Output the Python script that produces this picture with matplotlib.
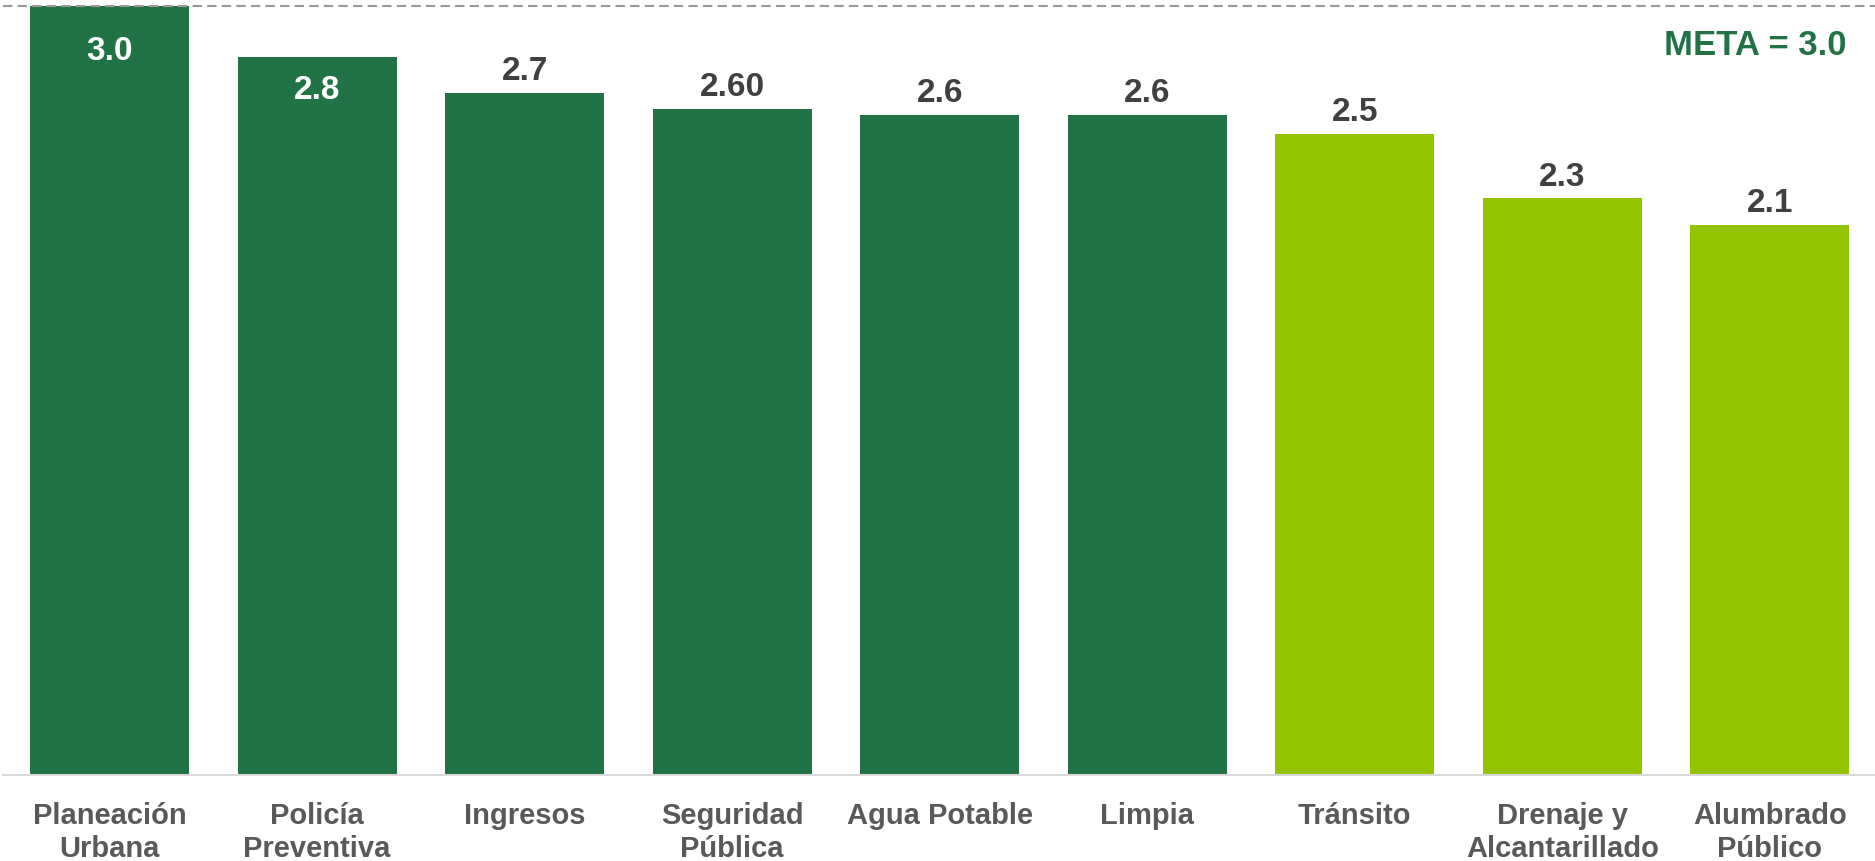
import matplotlib.pyplot as plt

plt.rcParams['font.family'] = ['Liberation Sans', 'DejaVu Sans']

# Data
categorias = ['Planeación\nUrbana', 'Policía\nPreventiva', 'Ingresos', 'Seguridad\nPública',
              'Agua Potable', 'Limpia', 'Tránsito', 'Drenaje y\nAlcantarillado', 'Alumbrado\nPúblico']
valores = [3.0, 2.80, 2.66, 2.60, 2.575, 2.575, 2.50, 2.25, 2.145]
etiquetas = ['3.0', '2.8', '2.7', '2.60', '2.6', '2.6', '2.5', '2.3', '2.1']
meta = 3.0

verde = '#217346'
lima = '#92C400'
colores = [verde] * 6 + [lima] * 3

fig = plt.figure(figsize=(18.75, 8.62), dpi=100)
ax = fig.add_axes([3 / 1875, 1 - 776 / 862, 1 - 3 / 1875, (776 - 7) / 862])

x = range(len(categorias))
bars = ax.bar(x, valores, width=0.766, color=colores, zorder=2)

# value labels: first two inside the bar in white, rest above in dark grey
for i, (b, v, t) in enumerate(zip(bars, valores, etiquetas)):
    cx = b.get_x() + b.get_width() / 2
    if i < 2:
        ax.annotate(t, (cx, v), xytext=(0, -32 if i == 0 else -23), textcoords='offset points',
                    ha='center', va='center', fontsize=24, fontweight='bold', color='white')
    else:
        ax.annotate(t, (cx, v), xytext=(0, 16), textcoords='offset points',
                    ha='center', va='center', fontsize=24, fontweight='bold', color='#404040')

# meta line
ax.axhline(meta, color='#999999', linestyle=(0, (4.5, 2.5)), linewidth=1.5, zorder=3, clip_on=False)
ax.text(0.985, 0.95, 'META = 3.0', transform=ax.transAxes, ha='right', va='center',
        fontsize=25, fontweight='bold', color=verde)

ax.set_xlim(-0.513, 8.506)
ax.set_ylim(0, meta)
ax.set_xticks(list(x))
ax.set_xticklabels(categorias, fontsize=21, fontweight='bold', color='#595959', linespacing=1.2)
ax.tick_params(axis='x', length=0, pad=19)
ax.set_yticks([])
for s in ['top', 'right', 'left']:
    ax.spines[s].set_visible(False)
ax.spines['bottom'].set_color('#d9d9d9')
ax.spines['bottom'].set_linewidth(1.5)

fig.savefig('out.png', dpi=100)
